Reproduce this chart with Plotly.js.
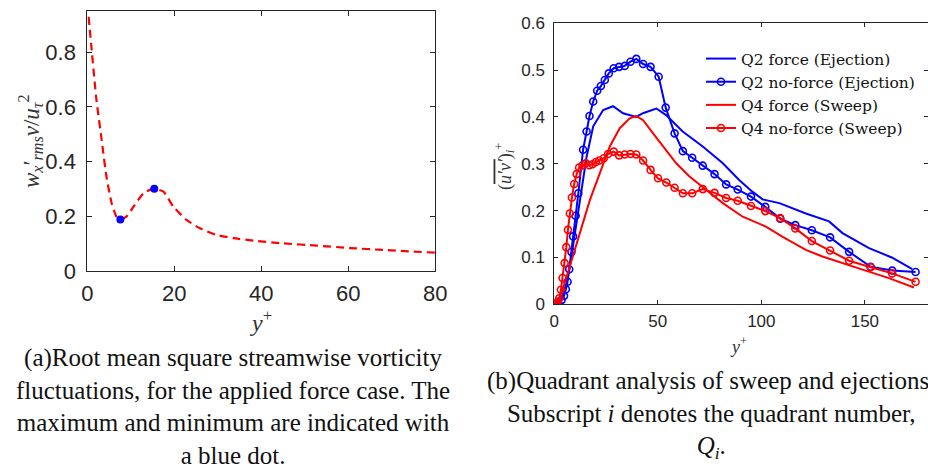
<!DOCTYPE html>
<html>
<head>
<meta charset="utf-8">
<script src="https://cdn.plot.ly/plotly-3.0.1.min.js"></script>
<style>html,body{margin:0;padding:0;background:#fff;}#chart{width:928px;height:467px;}</style>
</head>
<body>
<div id="chart"></div>
<script>
// ---- (a) rms streamwise vorticity, applied force case ----
const vortX = [0.3, 1.0, 2.1, 3.3, 4.4, 5.6, 6.7, 7.5, 9.0, 10.6, 12.9, 15.2, 17.5, 19.8, 22.8, 25.9, 29.7, 33.6, 38.2, 45, 52.7, 60.4, 68, 80];
const vortY = [0.93, 0.81, 0.626, 0.48, 0.345, 0.248, 0.199, 0.188, 0.199, 0.235, 0.284, 0.301, 0.29, 0.235, 0.187, 0.156, 0.132, 0.12, 0.111, 0.101, 0.093, 0.084, 0.077, 0.067];
const extremaX = [7.6, 15.4];
const extremaY = [0.188, 0.301];

// ---- (b) quadrant analysis ----
const q2ForceX = [0, 1, 3.5, 5.9, 7.5, 10, 12.4, 15.6, 18.8, 23.6, 28.4, 33.2, 39.6, 42.8, 49.3, 54, 62, 71.7, 81.4, 89.4, 95.8, 100.6, 108.7, 121.5, 132.7, 139.2, 152, 163, 172.9];
const q2ForceY = [0, 0, 0.013, 0.045, 0.08, 0.15, 0.223, 0.315, 0.38, 0.415, 0.423, 0.408, 0.40, 0.408, 0.418, 0.404, 0.369, 0.337, 0.301, 0.265, 0.24, 0.224, 0.216, 0.194, 0.177, 0.152, 0.12, 0.10, 0.075];

const q2NoForceX = [0, 2, 3.5, 4.7, 5.6, 6.4, 7.2, 8.3, 9.1, 10.3, 11.6, 13.9, 15.6, 17, 18.8, 20.7, 22.5, 24.4, 26.3, 28.7, 31.3, 34, 36.8, 39.6, 42.9, 46.5, 50.4, 53.8, 58.1, 62.1, 66.6, 71.7, 77.4, 83, 88.6, 95, 101.9, 109.1, 116.4, 124.4, 133.2, 142.4, 152.8, 163.2, 174.5];
const q2NoForceY = [0, 0.002, 0.009, 0.018, 0.032, 0.048, 0.075, 0.112, 0.145, 0.189, 0.237, 0.33, 0.369, 0.402, 0.433, 0.456, 0.466, 0.479, 0.493, 0.504, 0.507, 0.509, 0.518, 0.524, 0.513, 0.507, 0.486, 0.42, 0.365, 0.327, 0.313, 0.296, 0.278, 0.256, 0.245, 0.23, 0.208, 0.183, 0.169, 0.158, 0.143, 0.112, 0.08, 0.072, 0.069];

const q4ForceX = [0, 2, 3.5, 5.9, 10.8, 17.2, 22, 26.8, 31.6, 36.4, 39.6, 42.9, 47.7, 52.5, 58.9, 65.3, 73.4, 81.4, 91, 102.2, 110.3, 121.5, 129.5, 139.2, 150.4, 161.6, 173.7];
const q4ForceY = [0, 0.006, 0.023, 0.059, 0.13, 0.223, 0.28, 0.337, 0.376, 0.397, 0.402, 0.393, 0.365, 0.337, 0.301, 0.273, 0.244, 0.216, 0.187, 0.166, 0.144, 0.116, 0.102, 0.0875, 0.072, 0.056, 0.036];

const q4NoForceX = [0, 0.8, 1.6, 2.4, 3.2, 4, 5, 5.8, 6.6, 7.5, 8.5, 9.6, 10.8, 12, 13.6, 15.2, 16.9, 18.5, 20.1, 21.7, 23.9, 26, 28.7, 31.3, 34, 36.8, 39.6, 42.9, 46.5, 50.1, 54.1, 58.1, 62.1, 66.6, 71.7, 77.4, 83, 88.6, 95, 101.9, 109.1, 116.4, 124.4, 133.2, 142.4, 152.8, 163.2, 174.5];
const q4NoForceY = [0, 0.001, 0.006, 0.013, 0.031, 0.056, 0.088, 0.122, 0.159, 0.194, 0.228, 0.257, 0.278, 0.292, 0.297, 0.301, 0.297, 0.299, 0.304, 0.307, 0.312, 0.321, 0.326, 0.318, 0.32, 0.321, 0.32, 0.307, 0.287, 0.269, 0.26, 0.249, 0.237, 0.237, 0.246, 0.238, 0.227, 0.221, 0.21, 0.199, 0.184, 0.162, 0.135, 0.115, 0.093, 0.079, 0.066, 0.048];

const legendNames = ['Q2 force (Ejection)', 'Q2 no-force (Ejection)', 'Q4 force (Sweep)', 'Q4 no-force (Sweep)'];

const leftTicks = [0, 0.2, 0.4, 0.6, 0.8];
const leftXTicks = [0, 20, 40, 60, 80];
const rightTicks = [0, 0.1, 0.2, 0.3, 0.4, 0.5, 0.6];
const rightXTicks = [0, 50, 100, 150];

const captionA = '(a)Root mean square streamwise vorticity<br>fluctuations, for the applied force case. The<br>maximum and minimum are indicated with<br>a blue dot.';
const captionB = '(b)Quadrant analysis of sweep and ejections.<br>Subscript <i>i</i> denotes the quadrant number,<br><i>Q<sub>i</sub></i>.';

const BLUE = '#0000ff', RED = '#ff0000', AX = '#262626';
const SANS = 'Liberation Sans, Arial, sans-serif';
const SERIF = 'Liberation Serif, Times New Roman, serif';
const WSERIF = 'DejaVu Serif, serif';

const traces = [
  {x: vortX, y: vortY, xaxis: 'x', yaxis: 'y', mode: 'lines', showlegend: false,
   line: {color: RED, width: 2.2, dash: '8px,5px', shape: 'spline', smoothing: 0.5}},
  {x: extremaX, y: extremaY, xaxis: 'x', yaxis: 'y', mode: 'markers', showlegend: false,
   marker: {color: BLUE, size: 8}},
  {x: q2ForceX, y: q2ForceY, xaxis: 'x2', yaxis: 'y2', mode: 'lines', name: legendNames[0],
   line: {color: BLUE, width: 2}},
  {x: q2NoForceX, y: q2NoForceY, xaxis: 'x2', yaxis: 'y2', mode: 'lines+markers', name: legendNames[1],
   line: {color: BLUE, width: 2}, marker: {symbol: 'circle-open', size: 7, color: BLUE, line: {width: 1.6, color: BLUE}}},
  {x: q4ForceX, y: q4ForceY, xaxis: 'x2', yaxis: 'y2', mode: 'lines', name: legendNames[2],
   line: {color: RED, width: 2}},
  {x: q4NoForceX, y: q4NoForceY, xaxis: 'x2', yaxis: 'y2', mode: 'lines+markers', name: legendNames[3],
   line: {color: RED, width: 2}, marker: {symbol: 'circle-open', size: 7, color: RED, line: {width: 1.6, color: RED}}}
];

function axisBase(extra) {
  return Object.assign({
    showline: true, linecolor: AX, linewidth: 1, mirror: 'ticks',
    ticks: 'inside', tickcolor: AX, tickwidth: 1, showgrid: false, zeroline: false,
    automargin: false, fixedrange: true
  }, extra);
}

function note(x, y, text, font, extra) {
  return Object.assign({xref: 'paper', yref: 'paper', x: x / W, y: 1 - y / H, text: text,
    showarrow: false, xanchor: 'center', yanchor: 'middle', align: 'center', font: font}, extra || {});
}

const W = 928, H = 467;
const layout = {
  width: W, height: H,
  margin: {l: 0, r: 0, t: 0, b: 0},
  paper_bgcolor: '#fff', plot_bgcolor: '#fff',
  showlegend: true,
  legend: {x: 701 / W, y: 1 - 42 / H, xanchor: 'left', yanchor: 'top',
           bgcolor: 'rgba(0,0,0,0)', font: {family: WSERIF, size: 15.5, color: '#111'},
           tracegroupgap: 0, itemwidth: 30},
  xaxis: axisBase({domain: [87.3 / W, 435.3 / W], range: [0, 80], tickvals: leftXTicks,
    ticklen: 5, ticklabelstandoff: 3, tickfont: {family: SANS, size: 22, color: AX}, anchor: 'y'}),
  yaxis: axisBase({domain: [1 - 271 / H, 1 - 11 / H], range: [0, 0.951], tickvals: leftTicks,
    ticktext: ['0', '0.2', '0.4', '0.6', '0.8'],
    ticklen: 5, ticklabelstandoff: 6, tickfont: {family: SANS, size: 22, color: AX}, anchor: 'x'}),
  xaxis2: axisBase({domain: [554.3 / W, 927.6 / W], range: [0, 180.3], tickvals: rightXTicks,
    ticklen: 4, ticklabelstandoff: 1, tickfont: {family: SANS, size: 17, color: AX}, anchor: 'y2'}),
  yaxis2: axisBase({domain: [1 - 304.3 / H, 1 - 23.3 / H], range: [0, 0.6], tickvals: rightTicks,
    ticktext: ['0', '0.1', '0.2', '0.3', '0.4', '0.5', '0.6'],
    ticklen: 4, ticklabelstandoff: 5, tickfont: {family: SANS, size: 17, color: AX}, anchor: 'x2'}),
  annotations: [
    note(261, 321, '<i>y</i><sup>+</sup>', {family: SERIF, size: 24, color: '#333'}),
    note(738, 345, '<i>y</i><sup>+</sup>', {family: SERIF, size: 18, color: '#333'}),
    note(30, 141, '<i>w<sub>x</sub></i>′<sub><i>rms</i></sub><i>ν</i>/<i>u</i><sub><i>τ</i></sub><sup>2</sup>',
         {family: SERIF, size: 23, color: '#333'}, {textangle: -90}),
    note(504, 167, '(<span style="text-decoration:overline"><i>u′v′</i></span>)<sub><i>i</i></sub><sup>+</sup>',
         {family: SERIF, size: 18, color: '#333'}, {textangle: -90}),
    note(233, 406, captionA, {family: SERIF, size: 25, color: '#111'}),
    note(711, 415, captionB, {family: SERIF, size: 25, color: '#111'})
  ]
};

Plotly.newPlot('chart', traces, layout, {displayModeBar: false, staticPlot: true});
</script>
</body>
</html>
